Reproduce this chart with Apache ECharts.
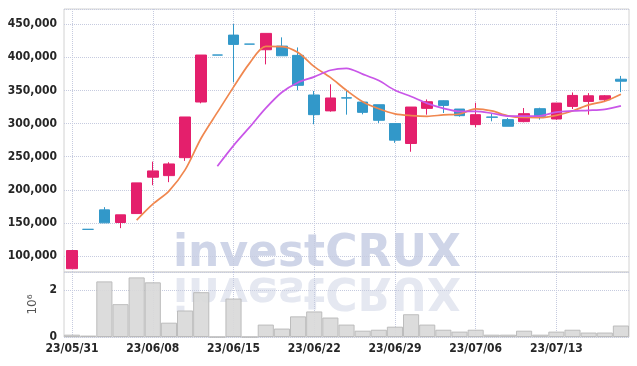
<!DOCTYPE html>
<html>
<head>
<meta charset="utf-8">
<script src="https://cdn.jsdelivr.net/npm/echarts@6/dist/echarts.min.js"></script>
<style>
html, body { margin: 0; padding: 0; background: #fff; }
#chart { width: 637px; height: 366px; }
</style>
</head>
<body>
<div id="chart"></div>
<script>
// trading days
const dates = ['23/05/31', '23/06/01', '23/06/02', '23/06/05', '23/06/07', '23/06/08', '23/06/09',
  '23/06/12', '23/06/13', '23/06/14', '23/06/15', '23/06/16', '23/06/19', '23/06/20', '23/06/21',
  '23/06/22', '23/06/23', '23/06/26', '23/06/27', '23/06/28', '23/06/29', '23/06/30', '23/07/03',
  '23/07/04', '23/07/05', '23/07/06', '23/07/07', '23/07/10', '23/07/11', '23/07/12', '23/07/13',
  '23/07/14', '23/07/17', '23/07/18', '23/07/19'];

const opens = [81000, 140400, 169800, 150700, 164200, 219100, 221500, 248600, 332600, 403500,
  433600, 420000, 411500, 417000, 403000, 343200, 319200, 339000, 332500, 328500,
  300000, 270000, 323000, 334500, 322000, 298500, 310000, 306000, 303000, 322500,
  307000, 326000, 333500, 336000, 367000];
const closes = [108400, 140400, 150200, 162300, 210500, 228600, 239100, 310000, 403500, 403500,
  419600, 420000, 436200, 402400, 357800, 313500, 338700, 338500, 317000, 305000,
  275000, 325000, 333000, 327500, 312000, 313500, 309500, 296000, 315000, 311000,
  331000, 342500, 342000, 342000, 364000];
const lows = [81000, 140400, 150200, 142200, 164200, 207000, 211600, 243700, 330600, 403500,
  362300, 420000, 389400, 402400, 350300, 299000, 318000, 313500, 314000, 301000,
  271000, 257500, 313500, 316000, 310500, 294500, 303500, 296000, 302000, 306000,
  306000, 322000, 313500, 332500, 347500];
const highs = [108400, 140400, 173900, 162300, 210500, 242600, 241700, 310000, 403500, 403500,
  450200, 420000, 436200, 430200, 415000, 349200, 359300, 351000, 332500, 328500,
  300000, 325000, 336500, 335000, 322000, 331500, 314500, 308500, 323500, 324000,
  331000, 347000, 346000, 343000, 372000];

// volume in millions of shares
const volumes = [0.10, 0.06, 2.37, 1.40, 2.54, 2.33, 0.61, 1.13, 1.91, 0,
  1.64, 0, 0.53, 0.36, 0.88, 1.09, 0.83, 0.53, 0.27, 0.31,
  0.44, 0.97, 0.53, 0.31, 0.23, 0.31, 0.10, 0.10, 0.27, 0.10,
  0.23, 0.31, 0.19, 0.19, 0.49];

const ma5 = [null, null, null, null, 154400, 178400, 198100, 230100, 278300, 316900,
  355100, 391300, 416600, 416300, 407200, 386000, 369700, 350200, 333100, 322500,
  314800, 312100, 311000, 313100, 314500, 322200, 319100, 311700, 309200, 309000,
  312500, 319100, 328300, 333700, 344300];
const ma10 = [null, null, null, null, null, null, null, null, null, 235700,
  266800, 294700, 323300, 347300, 362100, 370600, 380500, 383400, 374700, 364900,
  350400, 340900, 330600, 323100, 318500, 318500, 315600, 311400, 311200, 311800,
  317400, 319100, 320000, 321500, 326700];

const red = '#e41f6c';
const blue = '#3298c9';
const gridColor = '#c6cbdf';
const labelFont = { fontFamily: 'DejaVu Sans Condensed', fontSize: 12, fontWeight: 'bold', color: '#262626' };

// flat days are drawn blue in the reference
const candleData = opens.map((o, i) => {
  const item = { value: [o, closes[i], lows[i], highs[i]] };
  if (o === closes[i]) {
    item.itemStyle = { color: blue, color0: blue, borderColor: blue, borderColor0: blue };
  }
  return item;
});

const chart = echarts.init(document.getElementById('chart'));
chart.setOption({
  animation: false,
  graphic: [
    {
      type: 'text', x: 173, y: 255, z: -10,
      style: { text: 'investCRUX', fontFamily: 'DejaVu Sans', fontWeight: 'bold', fontSize: 44,
        fill: '#cfd5e8', align: 'left', verticalAlign: 'middle' }
    },
    {
      type: 'text', x: 173, y: 289, scaleY: -1, z: -10,
      style: { text: 'investCRUX', fontFamily: 'DejaVu Sans', fontWeight: 'bold', fontSize: 44,
        fill: '#e5e8f1', align: 'left', verticalAlign: 'middle' }
    }
  ],
  grid: [
    { left: 64, right: 8, top: 9, height: 263, show: true, borderColor: '#d2d2d2' },
    { left: 64, right: 8, top: 272, bottom: 29, show: true, borderColor: '#d2d2d2' }
  ],
  xAxis: [
    {
      type: 'category', gridIndex: 0, data: dates,
      axisLine: { show: false }, axisTick: { show: false }, axisLabel: { show: false },
      splitLine: { show: true, interval: 4, alignWithLabel: true, lineStyle: { type: 'dotted', color: gridColor } }
    },
    {
      type: 'category', gridIndex: 1, data: dates,
      axisLine: { show: false }, axisTick: { show: false },
      axisLabel: Object.assign({ interval: 4, margin: 6 }, labelFont),
      splitLine: { show: true, interval: 4, alignWithLabel: true, lineStyle: { type: 'dotted', color: gridColor } }
    }
  ],
  yAxis: [
    {
      type: 'value', gridIndex: 0, min: 76000, max: 473000, splitNumber: 8,
      axisLine: { show: false }, axisTick: { show: false },
      axisLabel: Object.assign({
        showMinLabel: false, showMaxLabel: false, margin: 7,
        formatter: v => v.toLocaleString('en-US')
      }, labelFont),
      splitLine: { lineStyle: { type: 'dotted', color: gridColor } }
    },
    {
      type: 'value', gridIndex: 1, min: 0, max: 2.77, interval: 2,
      name: '10\u2076', nameLocation: 'middle', nameRotate: 90, nameGap: 24,
      nameTextStyle: { fontFamily: 'DejaVu Sans', fontSize: 12, color: '#555' },
      axisLine: { show: false }, axisTick: { show: false },
      axisLabel: Object.assign({ showMaxLabel: false, margin: 7 }, labelFont),
      splitLine: { lineStyle: { type: 'dotted', color: gridColor } }
    }
  ],
  series: [
    {
      type: 'candlestick', xAxisIndex: 0, yAxisIndex: 0, data: candleData, barWidth: 11,
      itemStyle: { color: red, color0: blue, borderColor: red, borderColor0: blue, borderWidth: 1 }
    },
    {
      type: 'line', xAxisIndex: 0, yAxisIndex: 0, data: ma5, showSymbol: false, smooth: 0.3,
      lineStyle: { color: '#f0874f', width: 1.7 }
    },
    {
      type: 'line', xAxisIndex: 0, yAxisIndex: 0, data: ma10, showSymbol: false, smooth: 0.3,
      lineStyle: { color: '#c956e8', width: 1.7 }
    },
    {
      type: 'bar', xAxisIndex: 1, yAxisIndex: 1, data: volumes, barWidth: '100%',
      itemStyle: { color: '#d9d9d9', borderColor: '#b8b8b8', borderWidth: 1, opacity: 0.92 }
    }
  ]
});
</script>
</body>
</html>
